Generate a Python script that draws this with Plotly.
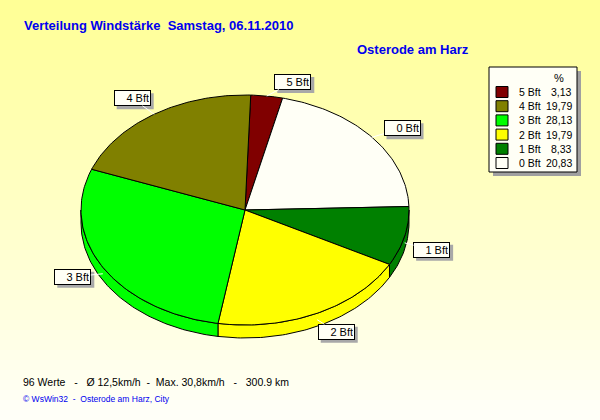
import numpy as np
import plotly.graph_objects as go

# ---------------- data ----------------
categories = ["5 Bft", "0 Bft", "1 Bft", "2 Bft", "3 Bft", "4 Bft"]   # clockwise from top
percent = [3.13, 20.83, 8.33, 19.79, 28.13, 19.79]
legend_order = ["5 Bft", "4 Bft", "3 Bft", "2 Bft", "1 Bft", "0 Bft"]
title_text = "Verteilung Windstärke  Samstag, 06.11.2010"
station_text = "Osterode am Harz"
footer_text = "96 Werte   -   Ø 12,5km/h  -  Max. 30,8km/h   -   300.9 km"
copyright_text = "© WsWin32  -  Osterode am Harz, City"

# ---------------- styles / layout constants ----------------
colors = {"5 Bft": "#800000", "4 Bft": "#808000", "3 Bft": "#00FF00",
          "2 Bft": "#FFFF00", "1 Bft": "#008000", "0 Bft": "#FFFFF6"}
CX, CY, RX, RY, DEPTH = 245, 210, 164, 115, 13
ROT = 2.0  # degrees
label_offsets = {"5 Bft": (26, -14), "0 Bft": (30, -9), "1 Bft": (27, 7),
                 "2 Bft": (19, 12), "3 Bft": (-30, 3), "4 Bft": (-22, -16)}
BOX_W, BOX_H = 37, 16
FONT = "Liberation Sans, Arial, sans-serif"
BLUE = "#0000EE"


def ell(t_deg, dy=0.0):
    t = np.radians(t_deg)
    return CX + RX * np.sin(t), CY - RY * np.cos(t) + dy


fig = go.Figure()

total = sum(percent)
cum = np.concatenate([[0], np.cumsum(percent)]) / total * 360 + ROT
starts, ends = cum[:-1], cum[1:]

# side walls (front half: 90..270 deg)
for cat, a0, a1 in zip(categories, starts, ends):
    s, e = max(a0, 90), min(a1, 270)
    if e <= s:
        continue
    t = np.linspace(s, e, int((e - s)) + 2)
    xt, yt = ell(t)
    xb, yb = ell(t[::-1], DEPTH)
    fig.add_trace(go.Scatter(x=np.concatenate([xt, xb, xt[:1]]),
                             y=np.concatenate([yt, yb, yt[:1]]),
                             mode="lines", fill="toself", fillcolor=colors[cat],
                             line=dict(color="black", width=1),
                             hoverinfo="skip", showlegend=False))

# top surfaces
for cat, a0, a1 in zip(categories, starts, ends):
    t = np.linspace(a0, a1, int(a1 - a0) + 2)
    xt, yt = ell(t)
    fig.add_trace(go.Scatter(x=np.concatenate([[CX], xt, [CX]]),
                             y=np.concatenate([[CY], yt, [CY]]),
                             mode="lines", fill="toself", fillcolor=colors[cat],
                             line=dict(color="black", width=1),
                             hoverinfo="skip", showlegend=False))

annotations = []
shapes = []

# background gradient
NB = 42
for i in range(NB):
    f = i / (NB - 1)
    b = int(round(150 + (248 - 150) * f))
    shapes.append(dict(type="rect", xref="paper", yref="paper",
                       x0=0, x1=1, y0=1 - i / NB, y1=1 - (i + 1) / NB - 0.002,
                       fillcolor=f"rgb(255,255,{b})", line=dict(width=0), layer="below"))

# slice labels
for cat, a0, a1 in zip(categories, starts, ends):
    mid = (a0 + a1) / 2
    front = 90 < mid < 270
    px, py = ell(mid, DEPTH / 2 if front else 0)
    ox, oy = label_offsets[cat]
    bx, by = px + ox + 3, py + oy + 3
    shapes.append(dict(type="rect", xref="x", yref="y",
                       x0=bx - BOX_W / 2, x1=bx + BOX_W / 2, y0=by - BOX_H / 2, y1=by + BOX_H / 2,
                       fillcolor="#A8A8A8", line=dict(width=0), layer="above"))
    annotations.append(dict(x=px, y=py, xref="x", yref="y", ax=ox, ay=oy,
                            showarrow=True, arrowcolor="#FFFFFF", arrowhead=0, arrowwidth=1,
                            text=cat, font=dict(family=FONT, size=11, color="black"),
                            bgcolor="#FFFFF6", bordercolor="black", borderwidth=1,
                            borderpad=1, width=BOX_W - 4, height=BOX_H - 4, align="right"))

# legend box
LX0, LX1, LY0, LY1 = 489, 577, 67, 172
shapes.append(dict(type="rect", xref="x", yref="y", x0=LX0 + 4, x1=LX1 + 4, y0=LY0 + 4, y1=LY1 + 4,
                   fillcolor="#A0A0A0", line=dict(width=0)))
shapes.append(dict(type="rect", xref="x", yref="y", x0=LX0, x1=LX1, y0=LY0, y1=LY1,
                   fillcolor="#FFFFF6", line=dict(color="black", width=1)))
annotations.append(dict(x=559, y=78, xref="x", yref="y", text="%", showarrow=False,
                        font=dict(family=FONT, size=11, color="black")))
val_of = dict(zip(categories, percent))
for i, cat in enumerate(legend_order):
    yc = 92 + i * 14.2
    shapes.append(dict(type="rect", xref="x", yref="y", x0=496, x1=508, y0=yc - 5.5, y1=yc + 5.5,
                       fillcolor=colors[cat], line=dict(color="black", width=1)))
    annotations.append(dict(x=517, y=yc, xref="x", yref="y", text=cat, showarrow=False,
                            xanchor="left", font=dict(family=FONT, size=10.5, color="black")))
    annotations.append(dict(x=574, y=yc, xref="x", yref="y",
                            text=f"{val_of[cat]:.2f}".replace(".", ","), showarrow=False,
                            xanchor="right", font=dict(family=FONT, size=10.5, color="black")))

# texts
annotations.append(dict(x=22, y=25, xref="x", yref="y", text=f"<b>{title_text}</b>".replace("  ", "\u00a0 "),
                        showarrow=False, xanchor="left",
                        font=dict(family=FONT, size=13, color=BLUE)))
annotations.append(dict(x=355, y=49, xref="x", yref="y", text=f"<b>{station_text}</b>",
                        showarrow=False, xanchor="left",
                        font=dict(family=FONT, size=13, color=BLUE)))
annotations.append(dict(x=21, y=382, xref="x", yref="y",
                        text=footer_text.replace(" ", "\u00a0"), showarrow=False,
                        xanchor="left", font=dict(family=FONT, size=10.5, color="black")))
annotations.append(dict(x=21, y=399, xref="x", yref="y",
                        text=copyright_text.replace(" ", "\u00a0"), showarrow=False,
                        xanchor="left", font=dict(family=FONT, size=8.5, color=BLUE)))

fig.update_layout(
    width=600, height=420, autosize=False,
    margin=dict(l=0, r=0, t=0, b=0),
    paper_bgcolor="#FFFFF6", plot_bgcolor="rgba(0,0,0,0)",
    xaxis=dict(range=[0, 600], visible=False, fixedrange=True),
    yaxis=dict(range=[420, 0], visible=False, fixedrange=True),
    shapes=shapes, annotations=annotations, showlegend=False,
)

fig.write_html("out.html", config={"displayModeBar": False},
               post_script="document.body.style.margin='0';document.body.style.padding='0';")
